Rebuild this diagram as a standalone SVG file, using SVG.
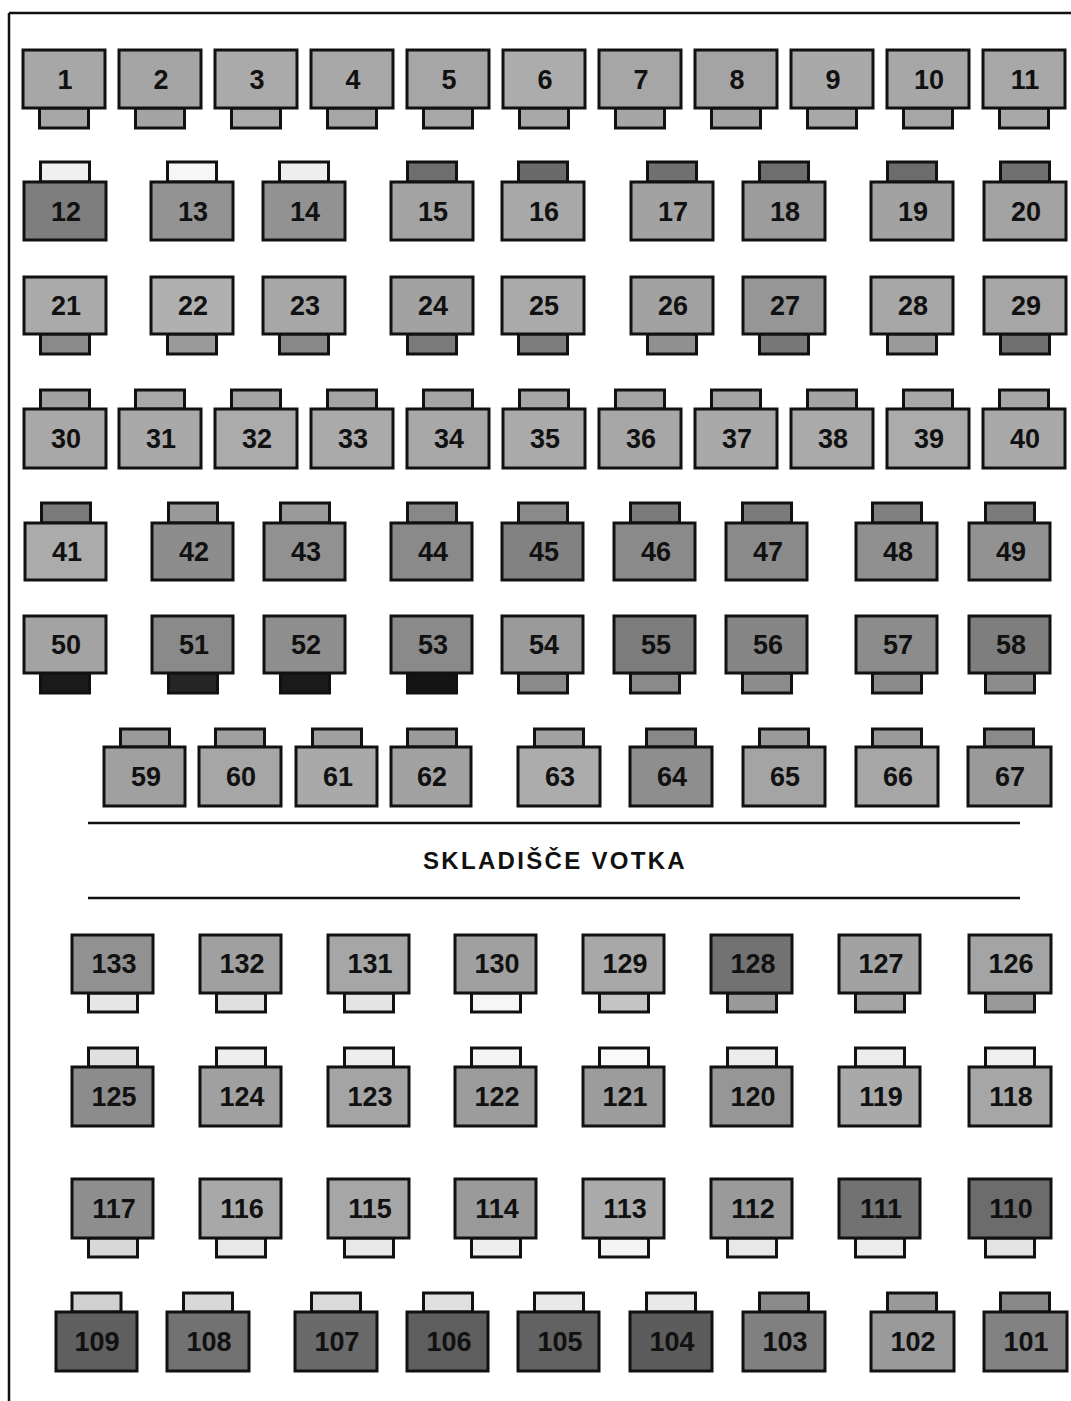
<svg xmlns="http://www.w3.org/2000/svg" width="1071" height="1401" viewBox="0 0 1071 1401">
<style>
.b{stroke:#111;stroke-width:3}
.t{stroke:#111;stroke-width:3}
.n{font-family:"Liberation Sans",Arial,sans-serif;font-weight:bold;font-size:27px;fill:#111;text-anchor:middle}
.title{font-family:"Liberation Sans",Arial,sans-serif;font-weight:bold;font-size:24px;fill:#111;text-anchor:middle;letter-spacing:2.3px}
.ln{stroke:#111;stroke-width:2.5;fill:none}
</style>
<rect width="1071" height="1401" fill="#ffffff"/>
<g id="frame">
<line class="ln" x1="9" y1="13" x2="1071" y2="13"/>
<line class="ln" x1="9" y1="13" x2="9" y2="1401"/>
</g>
<g id="connectors">
<line class="ln" x1="88" y1="823" x2="1020" y2="823"/>
<line class="ln" x1="88" y1="898" x2="1020" y2="898"/>
</g>
<g id="label"><text class="title" x="555" y="869">SKLADIŠČE VOTKA</text></g>

<!-- Row 1 -->
<g id="n1" transform="translate(23 50)"><rect class="t" x="16.5" y="58" width="49" height="20" fill="#a6a6a6"/><rect class="b" width="82" height="58" fill="#a7a7a7"/><text class="n" x="42" y="39">1</text></g>
<g id="n2" transform="translate(119 50)"><rect class="t" x="16.5" y="58" width="49" height="20" fill="#a3a3a3"/><rect class="b" width="82" height="58" fill="#a5a5a5"/><text class="n" x="42" y="39">2</text></g>
<g id="n3" transform="translate(215 50)"><rect class="t" x="16.5" y="58" width="49" height="20" fill="#ababab"/><rect class="b" width="82" height="58" fill="#aaaaaa"/><text class="n" x="42" y="39">3</text></g>
<g id="n4" transform="translate(311 50)"><rect class="t" x="16.5" y="58" width="49" height="20" fill="#a6a6a6"/><rect class="b" width="82" height="58" fill="#a8a8a8"/><text class="n" x="42" y="39">4</text></g>
<g id="n5" transform="translate(407 50)"><rect class="t" x="16.5" y="58" width="49" height="20" fill="#a8a8a8"/><rect class="b" width="82" height="58" fill="#a6a6a6"/><text class="n" x="42" y="39">5</text></g>
<g id="n6" transform="translate(503 50)"><rect class="t" x="16.5" y="58" width="49" height="20" fill="#a8a8a8"/><rect class="b" width="82" height="58" fill="#acacac"/><text class="n" x="42" y="39">6</text></g>
<g id="n7" transform="translate(599 50)"><rect class="t" x="16.5" y="58" width="49" height="20" fill="#a5a5a5"/><rect class="b" width="82" height="58" fill="#a6a6a6"/><text class="n" x="42" y="39">7</text></g>
<g id="n8" transform="translate(695 50)"><rect class="t" x="16.5" y="58" width="49" height="20" fill="#a3a3a3"/><rect class="b" width="82" height="58" fill="#a4a4a4"/><text class="n" x="42" y="39">8</text></g>
<g id="n9" transform="translate(791 50)"><rect class="t" x="16.5" y="58" width="49" height="20" fill="#a8a8a8"/><rect class="b" width="82" height="58" fill="#a9a9a9"/><text class="n" x="42" y="39">9</text></g>
<g id="n10" transform="translate(887 50)"><rect class="t" x="16.5" y="58" width="49" height="20" fill="#a6a6a6"/><rect class="b" width="82" height="58" fill="#a7a7a7"/><text class="n" x="42" y="39">10</text></g>
<g id="n11" transform="translate(983 50)"><rect class="t" x="16.5" y="58" width="49" height="20" fill="#a8a8a8"/><rect class="b" width="82" height="58" fill="#a8a8a8"/><text class="n" x="42" y="39">11</text></g>

<!-- Row 2 -->
<g id="n12" transform="translate(24 182)"><rect class="t" x="16.5" y="-20" width="49" height="20" fill="#f0f0f0"/><rect class="b" width="82" height="58" fill="#7e7e7e"/><text class="n" x="42" y="39">12</text></g>
<g id="n13" transform="translate(151 182)"><rect class="t" x="16.5" y="-20" width="49" height="20" fill="#f6f6f6"/><rect class="b" width="82" height="58" fill="#939393"/><text class="n" x="42" y="39">13</text></g>
<g id="n14" transform="translate(263 182)"><rect class="t" x="16.5" y="-20" width="49" height="20" fill="#eeeeee"/><rect class="b" width="82" height="58" fill="#929292"/><text class="n" x="42" y="39">14</text></g>
<g id="n15" transform="translate(391 182)"><rect class="t" x="16.5" y="-20" width="49" height="20" fill="#6e6e6e"/><rect class="b" width="82" height="58" fill="#a3a3a3"/><text class="n" x="42" y="39">15</text></g>
<g id="n16" transform="translate(502 182)"><rect class="t" x="16.5" y="-20" width="49" height="20" fill="#6a6a6a"/><rect class="b" width="82" height="58" fill="#a8a8a8"/><text class="n" x="42" y="39">16</text></g>
<g id="n17" transform="translate(631 182)"><rect class="t" x="16.5" y="-20" width="49" height="20" fill="#707070"/><rect class="b" width="82" height="58" fill="#a2a2a2"/><text class="n" x="42" y="39">17</text></g>
<g id="n18" transform="translate(743 182)"><rect class="t" x="16.5" y="-20" width="49" height="20" fill="#6e6e6e"/><rect class="b" width="82" height="58" fill="#9c9c9c"/><text class="n" x="42" y="39">18</text></g>
<g id="n19" transform="translate(871 182)"><rect class="t" x="16.5" y="-20" width="49" height="20" fill="#6c6c6c"/><rect class="b" width="82" height="58" fill="#a2a2a2"/><text class="n" x="42" y="39">19</text></g>
<g id="n20" transform="translate(984 182)"><rect class="t" x="16.5" y="-20" width="49" height="20" fill="#707070"/><rect class="b" width="82" height="58" fill="#a3a3a3"/><text class="n" x="42" y="39">20</text></g>

<!-- Row 3 -->
<g id="n21" transform="translate(24 277)"><rect class="t" x="16.5" y="57" width="49" height="20" fill="#8a8a8a"/><rect class="b" width="82" height="57" fill="#aaaaaa"/><text class="n" x="42" y="38">21</text></g>
<g id="n22" transform="translate(151 277)"><rect class="t" x="16.5" y="57" width="49" height="20" fill="#9a9a9a"/><rect class="b" width="82" height="57" fill="#b0b0b0"/><text class="n" x="42" y="38">22</text></g>
<g id="n23" transform="translate(263 277)"><rect class="t" x="16.5" y="57" width="49" height="20" fill="#888888"/><rect class="b" width="82" height="57" fill="#a7a7a7"/><text class="n" x="42" y="38">23</text></g>
<g id="n24" transform="translate(391 277)"><rect class="t" x="16.5" y="57" width="49" height="20" fill="#7a7a7a"/><rect class="b" width="82" height="57" fill="#a2a2a2"/><text class="n" x="42" y="38">24</text></g>
<g id="n25" transform="translate(502 277)"><rect class="t" x="16.5" y="57" width="49" height="20" fill="#7c7c7c"/><rect class="b" width="82" height="57" fill="#aaaaaa"/><text class="n" x="42" y="38">25</text></g>
<g id="n26" transform="translate(631 277)"><rect class="t" x="16.5" y="57" width="49" height="20" fill="#909090"/><rect class="b" width="82" height="57" fill="#a2a2a2"/><text class="n" x="42" y="38">26</text></g>
<g id="n27" transform="translate(743 277)"><rect class="t" x="16.5" y="57" width="49" height="20" fill="#787878"/><rect class="b" width="82" height="57" fill="#969696"/><text class="n" x="42" y="38">27</text></g>
<g id="n28" transform="translate(871 277)"><rect class="t" x="16.5" y="57" width="49" height="20" fill="#9a9a9a"/><rect class="b" width="82" height="57" fill="#a7a7a7"/><text class="n" x="42" y="38">28</text></g>
<g id="n29" transform="translate(984 277)"><rect class="t" x="16.5" y="57" width="49" height="20" fill="#707070"/><rect class="b" width="82" height="57" fill="#a6a6a6"/><text class="n" x="42" y="38">29</text></g>

<!-- Row 4 -->
<g id="n30" transform="translate(24 409)"><rect class="t" x="16.5" y="-19" width="49" height="19" fill="#a2a2a2"/><rect class="b" width="82" height="59" fill="#a8a8a8"/><text class="n" x="42" y="39">30</text></g>
<g id="n31" transform="translate(119 409)"><rect class="t" x="16.5" y="-19" width="49" height="19" fill="#a8a8a8"/><rect class="b" width="82" height="59" fill="#a9a9a9"/><text class="n" x="42" y="39">31</text></g>
<g id="n32" transform="translate(215 409)"><rect class="t" x="16.5" y="-19" width="49" height="19" fill="#a5a5a5"/><rect class="b" width="82" height="59" fill="#ababab"/><text class="n" x="42" y="39">32</text></g>
<g id="n33" transform="translate(311 409)"><rect class="t" x="16.5" y="-19" width="49" height="19" fill="#a4a4a4"/><rect class="b" width="82" height="59" fill="#aaaaaa"/><text class="n" x="42" y="39">33</text></g>
<g id="n34" transform="translate(407 409)"><rect class="t" x="16.5" y="-19" width="49" height="19" fill="#a4a4a4"/><rect class="b" width="82" height="59" fill="#a8a8a8"/><text class="n" x="42" y="39">34</text></g>
<g id="n35" transform="translate(503 409)"><rect class="t" x="16.5" y="-19" width="49" height="19" fill="#a6a6a6"/><rect class="b" width="82" height="59" fill="#aaaaaa"/><text class="n" x="42" y="39">35</text></g>
<g id="n36" transform="translate(599 409)"><rect class="t" x="16.5" y="-19" width="49" height="19" fill="#a4a4a4"/><rect class="b" width="82" height="59" fill="#a7a7a7"/><text class="n" x="42" y="39">36</text></g>
<g id="n37" transform="translate(695 409)"><rect class="t" x="16.5" y="-19" width="49" height="19" fill="#a5a5a5"/><rect class="b" width="82" height="59" fill="#a9a9a9"/><text class="n" x="42" y="39">37</text></g>
<g id="n38" transform="translate(791 409)"><rect class="t" x="16.5" y="-19" width="49" height="19" fill="#a3a3a3"/><rect class="b" width="82" height="59" fill="#aaaaaa"/><text class="n" x="42" y="39">38</text></g>
<g id="n39" transform="translate(887 409)"><rect class="t" x="16.5" y="-19" width="49" height="19" fill="#a8a8a8"/><rect class="b" width="82" height="59" fill="#ababab"/><text class="n" x="42" y="39">39</text></g>
<g id="n40" transform="translate(983 409)"><rect class="t" x="16.5" y="-19" width="49" height="19" fill="#a6a6a6"/><rect class="b" width="82" height="59" fill="#a9a9a9"/><text class="n" x="42" y="39">40</text></g>

<!-- Row 5 -->
<g id="n41" transform="translate(25 523)"><rect class="t" x="16.5" y="-20" width="49" height="20" fill="#7a7a7a"/><rect class="b" width="81" height="57" fill="#ababab"/><text class="n" x="42" y="38">41</text></g>
<g id="n42" transform="translate(152 523)"><rect class="t" x="16.5" y="-20" width="49" height="20" fill="#999999"/><rect class="b" width="81" height="57" fill="#8d8d8d"/><text class="n" x="42" y="38">42</text></g>
<g id="n43" transform="translate(264 523)"><rect class="t" x="16.5" y="-20" width="49" height="20" fill="#9a9a9a"/><rect class="b" width="81" height="57" fill="#919191"/><text class="n" x="42" y="38">43</text></g>
<g id="n44" transform="translate(391 523)"><rect class="t" x="16.5" y="-20" width="49" height="20" fill="#888888"/><rect class="b" width="81" height="57" fill="#8a8a8a"/><text class="n" x="42" y="38">44</text></g>
<g id="n45" transform="translate(502 523)"><rect class="t" x="16.5" y="-20" width="49" height="20" fill="#8a8a8a"/><rect class="b" width="81" height="57" fill="#828282"/><text class="n" x="42" y="38">45</text></g>
<g id="n46" transform="translate(614 523)"><rect class="t" x="16.5" y="-20" width="49" height="20" fill="#7a7a7a"/><rect class="b" width="81" height="57" fill="#8a8a8a"/><text class="n" x="42" y="38">46</text></g>
<g id="n47" transform="translate(726 523)"><rect class="t" x="16.5" y="-20" width="49" height="20" fill="#7a7a7a"/><rect class="b" width="81" height="57" fill="#8a8a8a"/><text class="n" x="42" y="38">47</text></g>
<g id="n48" transform="translate(856 523)"><rect class="t" x="16.5" y="-20" width="49" height="20" fill="#808080"/><rect class="b" width="81" height="57" fill="#909090"/><text class="n" x="42" y="38">48</text></g>
<g id="n49" transform="translate(969 523)"><rect class="t" x="16.5" y="-20" width="49" height="20" fill="#7a7a7a"/><rect class="b" width="81" height="57" fill="#929292"/><text class="n" x="42" y="38">49</text></g>

<!-- Row 6 -->
<g id="n50" transform="translate(24 616)"><rect class="t" x="16.5" y="57" width="49" height="20" fill="#1a1a1a"/><rect class="b" width="82" height="57" fill="#a3a3a3"/><text class="n" x="42" y="38">50</text></g>
<g id="n51" transform="translate(152 616)"><rect class="t" x="16.5" y="57" width="49" height="20" fill="#262626"/><rect class="b" width="81" height="57" fill="#8a8a8a"/><text class="n" x="42" y="38">51</text></g>
<g id="n52" transform="translate(264 616)"><rect class="t" x="16.5" y="57" width="49" height="20" fill="#1a1a1a"/><rect class="b" width="81" height="57" fill="#8e8e8e"/><text class="n" x="42" y="38">52</text></g>
<g id="n53" transform="translate(391 616)"><rect class="t" x="16.5" y="57" width="49" height="20" fill="#141414"/><rect class="b" width="81" height="57" fill="#8a8a8a"/><text class="n" x="42" y="38">53</text></g>
<g id="n54" transform="translate(502 616)"><rect class="t" x="16.5" y="57" width="49" height="20" fill="#8a8a8a"/><rect class="b" width="81" height="57" fill="#9a9a9a"/><text class="n" x="42" y="38">54</text></g>
<g id="n55" transform="translate(614 616)"><rect class="t" x="16.5" y="57" width="49" height="20" fill="#8a8a8a"/><rect class="b" width="81" height="57" fill="#7c7c7c"/><text class="n" x="42" y="38">55</text></g>
<g id="n56" transform="translate(726 616)"><rect class="t" x="16.5" y="57" width="49" height="20" fill="#8c8c8c"/><rect class="b" width="81" height="57" fill="#868686"/><text class="n" x="42" y="38">56</text></g>
<g id="n57" transform="translate(856 616)"><rect class="t" x="16.5" y="57" width="49" height="20" fill="#8a8a8a"/><rect class="b" width="81" height="57" fill="#8c8c8c"/><text class="n" x="42" y="38">57</text></g>
<g id="n58" transform="translate(969 616)"><rect class="t" x="16.5" y="57" width="49" height="20" fill="#8c8c8c"/><rect class="b" width="81" height="57" fill="#7e7e7e"/><text class="n" x="42" y="38">58</text></g>

<!-- Row 7 -->
<g id="n59" transform="translate(104 747)"><rect class="t" x="16.5" y="-18" width="49" height="18" fill="#9a9a9a"/><rect class="b" width="81" height="59" fill="#a0a0a0"/><text class="n" x="42" y="39">59</text></g>
<g id="n60" transform="translate(199 747)"><rect class="t" x="16.5" y="-18" width="49" height="18" fill="#a0a0a0"/><rect class="b" width="82" height="59" fill="#a6a6a6"/><text class="n" x="42" y="39">60</text></g>
<g id="n61" transform="translate(296 747)"><rect class="t" x="16.5" y="-18" width="49" height="18" fill="#a0a0a0"/><rect class="b" width="81" height="59" fill="#a9a9a9"/><text class="n" x="42" y="39">61</text></g>
<g id="n62" transform="translate(391 747)"><rect class="t" x="16.5" y="-18" width="49" height="18" fill="#9a9a9a"/><rect class="b" width="80" height="59" fill="#a2a2a2"/><text class="n" x="41" y="39">62</text></g>
<g id="n63" transform="translate(518 747)"><rect class="t" x="16.5" y="-18" width="49" height="18" fill="#a2a2a2"/><rect class="b" width="82" height="59" fill="#acacac"/><text class="n" x="42" y="39">63</text></g>
<g id="n64" transform="translate(630 747)"><rect class="t" x="16.5" y="-18" width="49" height="18" fill="#888888"/><rect class="b" width="82" height="59" fill="#8e8e8e"/><text class="n" x="42" y="39">64</text></g>
<g id="n65" transform="translate(743 747)"><rect class="t" x="16.5" y="-18" width="49" height="18" fill="#9a9a9a"/><rect class="b" width="82" height="59" fill="#a4a4a4"/><text class="n" x="42" y="39">65</text></g>
<g id="n66" transform="translate(856 747)"><rect class="t" x="16.5" y="-18" width="49" height="18" fill="#9a9a9a"/><rect class="b" width="82" height="59" fill="#a6a6a6"/><text class="n" x="42" y="39">66</text></g>
<g id="n67" transform="translate(968 747)"><rect class="t" x="16.5" y="-18" width="49" height="18" fill="#8a8a8a"/><rect class="b" width="83" height="59" fill="#9a9a9a"/><text class="n" x="42" y="39">67</text></g>

<!-- Row 8 -->
<g id="n133" transform="translate(72 935)"><rect class="t" x="16.5" y="58" width="49" height="19" fill="#e6e6e6"/><rect class="b" width="81" height="58" fill="#919191"/><text class="n" x="42" y="38">133</text></g>
<g id="n132" transform="translate(200 935)"><rect class="t" x="16.5" y="58" width="49" height="19" fill="#e0e0e0"/><rect class="b" width="81" height="58" fill="#a0a0a0"/><text class="n" x="42" y="38">132</text></g>
<g id="n131" transform="translate(328 935)"><rect class="t" x="16.5" y="58" width="49" height="19" fill="#e4e4e4"/><rect class="b" width="81" height="58" fill="#a6a6a6"/><text class="n" x="42" y="38">131</text></g>
<g id="n130" transform="translate(455 935)"><rect class="t" x="16.5" y="58" width="49" height="19" fill="#f6f6f6"/><rect class="b" width="81" height="58" fill="#a0a0a0"/><text class="n" x="42" y="38">130</text></g>
<g id="n129" transform="translate(583 935)"><rect class="t" x="16.5" y="58" width="49" height="19" fill="#c4c4c4"/><rect class="b" width="81" height="58" fill="#a8a8a8"/><text class="n" x="42" y="38">129</text></g>
<g id="n128" transform="translate(711 935)"><rect class="t" x="16.5" y="58" width="49" height="19" fill="#999999"/><rect class="b" width="81" height="58" fill="#727272"/><text class="n" x="42" y="38">128</text></g>
<g id="n127" transform="translate(839 935)"><rect class="t" x="16.5" y="58" width="49" height="19" fill="#a5a5a5"/><rect class="b" width="81" height="58" fill="#a2a2a2"/><text class="n" x="42" y="38">127</text></g>
<g id="n126" transform="translate(969 935)"><rect class="t" x="16.5" y="58" width="49" height="19" fill="#999999"/><rect class="b" width="82" height="58" fill="#a4a4a4"/><text class="n" x="42" y="38">126</text></g>

<!-- Row 9 -->
<g id="n125" transform="translate(72 1067)"><rect class="t" x="16.5" y="-19" width="49" height="19" fill="#e0e0e0"/><rect class="b" width="81" height="59" fill="#8c8c8c"/><text class="n" x="42" y="39">125</text></g>
<g id="n124" transform="translate(200 1067)"><rect class="t" x="16.5" y="-19" width="49" height="19" fill="#eeeeee"/><rect class="b" width="81" height="59" fill="#a0a0a0"/><text class="n" x="42" y="39">124</text></g>
<g id="n123" transform="translate(328 1067)"><rect class="t" x="16.5" y="-19" width="49" height="19" fill="#eeeeee"/><rect class="b" width="81" height="59" fill="#a4a4a4"/><text class="n" x="42" y="39">123</text></g>
<g id="n122" transform="translate(455 1067)"><rect class="t" x="16.5" y="-19" width="49" height="19" fill="#f4f4f4"/><rect class="b" width="81" height="59" fill="#9c9c9c"/><text class="n" x="42" y="39">122</text></g>
<g id="n121" transform="translate(583 1067)"><rect class="t" x="16.5" y="-19" width="49" height="19" fill="#fafafa"/><rect class="b" width="81" height="59" fill="#9c9c9c"/><text class="n" x="42" y="39">121</text></g>
<g id="n120" transform="translate(711 1067)"><rect class="t" x="16.5" y="-19" width="49" height="19" fill="#ececec"/><rect class="b" width="81" height="59" fill="#969696"/><text class="n" x="42" y="39">120</text></g>
<g id="n119" transform="translate(839 1067)"><rect class="t" x="16.5" y="-19" width="49" height="19" fill="#ececec"/><rect class="b" width="81" height="59" fill="#a9a9a9"/><text class="n" x="42" y="39">119</text></g>
<g id="n118" transform="translate(969 1067)"><rect class="t" x="16.5" y="-19" width="49" height="19" fill="#f0f0f0"/><rect class="b" width="82" height="59" fill="#a6a6a6"/><text class="n" x="42" y="39">118</text></g>

<!-- Row 10 -->
<g id="n117" transform="translate(72 1179)"><rect class="t" x="16.5" y="59" width="49" height="19" fill="#d8d8d8"/><rect class="b" width="81" height="59" fill="#8e8e8e"/><text class="n" x="42" y="39">117</text></g>
<g id="n116" transform="translate(200 1179)"><rect class="t" x="16.5" y="59" width="49" height="19" fill="#e8e8e8"/><rect class="b" width="81" height="59" fill="#a8a8a8"/><text class="n" x="42" y="39">116</text></g>
<g id="n115" transform="translate(328 1179)"><rect class="t" x="16.5" y="59" width="49" height="19" fill="#e8e8e8"/><rect class="b" width="81" height="59" fill="#a6a6a6"/><text class="n" x="42" y="39">115</text></g>
<g id="n114" transform="translate(455 1179)"><rect class="t" x="16.5" y="59" width="49" height="19" fill="#eeeeee"/><rect class="b" width="81" height="59" fill="#9a9a9a"/><text class="n" x="42" y="39">114</text></g>
<g id="n113" transform="translate(583 1179)"><rect class="t" x="16.5" y="59" width="49" height="19" fill="#f4f4f4"/><rect class="b" width="81" height="59" fill="#aaaaaa"/><text class="n" x="42" y="39">113</text></g>
<g id="n112" transform="translate(711 1179)"><rect class="t" x="16.5" y="59" width="49" height="19" fill="#e8e8e8"/><rect class="b" width="81" height="59" fill="#9a9a9a"/><text class="n" x="42" y="39">112</text></g>
<g id="n111" transform="translate(839 1179)"><rect class="t" x="16.5" y="59" width="49" height="19" fill="#ececec"/><rect class="b" width="81" height="59" fill="#727272"/><text class="n" x="42" y="39">111</text></g>
<g id="n110" transform="translate(969 1179)"><rect class="t" x="16.5" y="59" width="49" height="19" fill="#e4e4e4"/><rect class="b" width="82" height="59" fill="#6c6c6c"/><text class="n" x="42" y="39">110</text></g>

<!-- Row 11 -->
<g id="n109" transform="translate(56 1312)"><rect class="t" x="16" y="-19" width="49" height="19" fill="#d0d0d0"/><rect class="b" width="81" height="59" fill="#5f5f5f"/><text class="n" x="41" y="39">109</text></g>
<g id="n108" transform="translate(167 1312)"><rect class="t" x="16.5" y="-19" width="49" height="19" fill="#d8d8d8"/><rect class="b" width="82" height="59" fill="#727272"/><text class="n" x="42" y="39">108</text></g>
<g id="n107" transform="translate(295 1312)"><rect class="t" x="16.5" y="-19" width="49" height="19" fill="#dadada"/><rect class="b" width="82" height="59" fill="#6a6a6a"/><text class="n" x="42" y="39">107</text></g>
<g id="n106" transform="translate(407 1312)"><rect class="t" x="16.5" y="-19" width="49" height="19" fill="#e0e0e0"/><rect class="b" width="81" height="59" fill="#5e5e5e"/><text class="n" x="42" y="39">106</text></g>
<g id="n105" transform="translate(518 1312)"><rect class="t" x="16.5" y="-19" width="49" height="19" fill="#e8e8e8"/><rect class="b" width="81" height="59" fill="#626262"/><text class="n" x="42" y="39">105</text></g>
<g id="n104" transform="translate(630 1312)"><rect class="t" x="16.5" y="-19" width="49" height="19" fill="#e8e8e8"/><rect class="b" width="82" height="59" fill="#5c5c5c"/><text class="n" x="42" y="39">104</text></g>
<g id="n103" transform="translate(743 1312)"><rect class="t" x="16.5" y="-19" width="49" height="19" fill="#8a8a8a"/><rect class="b" width="82" height="59" fill="#808080"/><text class="n" x="42" y="39">103</text></g>
<g id="n102" transform="translate(871 1312)"><rect class="t" x="16.5" y="-19" width="49" height="19" fill="#999999"/><rect class="b" width="83" height="59" fill="#9a9a9a"/><text class="n" x="42" y="39">102</text></g>
<g id="n101" transform="translate(984 1312)"><rect class="t" x="16.5" y="-19" width="49" height="19" fill="#888888"/><rect class="b" width="83" height="59" fill="#828282"/><text class="n" x="42" y="39">101</text></g>
</svg>
